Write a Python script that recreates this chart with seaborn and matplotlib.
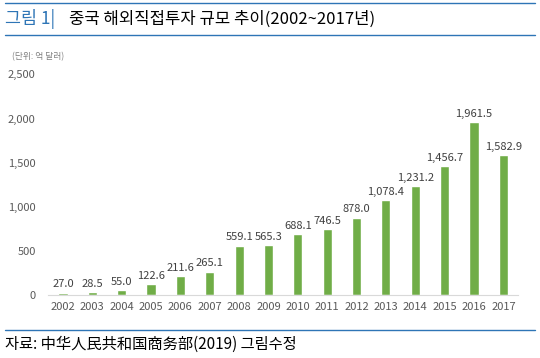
import seaborn as sns
import matplotlib.pyplot as plt
from matplotlib.lines import Line2D
from matplotlib.ticker import FuncFormatter

years = ['2002', '2003', '2004', '2005', '2006', '2007', '2008', '2009',
         '2010', '2011', '2012', '2013', '2014', '2015', '2016', '2017']
values = [27.0, 28.5, 55.0, 122.6, 211.6, 265.1, 559.1, 565.3,
          688.1, 746.5, 878.0, 1078.4, 1231.2, 1456.7, 1961.5, 1582.9]
y_ticks = [0, 500, 1000, 1500, 2000, 2500]

title_head = '그림 1|'
title_body = '중국 해외직접투자 규모 추이(2002~2017년)'
unit_text = '(단위: 억 달러)'
source_text = '자료: 中华人民共和国商务部(2019) 그림수정'


def comma_fmt(x, pos):
    return f'{x:,.0f}'


def main():
    sns.set_style('white')
    plt.rcParams['font.family'] = ['Noto Sans CJK KR', 'DejaVu Sans']

    fig = plt.figure(figsize=(5.4, 3.58), dpi=100)
    ax = fig.add_axes([0.0894, 0.176, 0.870, 0.616])

    sns.barplot(x=years, y=values, color='#70AD47', saturation=1,
                width=0.31, ax=ax)

    for i, v in enumerate(values):
        ax.text(i, v + 38, f'{v:,.1f}', ha='center', va='bottom',
                fontsize=8, color='#404040')

    ax.set_ylim(0, 2500)
    ax.set_xlim(-0.5, len(years) - 0.5)
    ax.set_yticks(y_ticks)
    ax.yaxis.set_major_formatter(FuncFormatter(comma_fmt))
    ax.tick_params(axis='both', length=0, labelsize=8, colors='#595959')
    ax.tick_params(axis='x', pad=5)
    ax.tick_params(axis='y', pad=9)
    for side in ['top', 'right', 'left']:
        ax.spines[side].set_visible(False)
    ax.spines['bottom'].set_color('#d9d9d9')
    ax.spines['bottom'].set_linewidth(0.8)

    # header / footer decoration
    blue = '#2E75B6'
    for yy in [1 - 3 / 358, 1 - 35 / 358, 1 - 330 / 358]:
        fig.add_artist(Line2D([5 / 540, 535 / 540], [yy, yy],
                              color=blue, lw=1.0))

    fig.text(5 / 540, 1 - 19 / 358, title_head, color=blue,
             fontsize=12.5, va='center', ha='left')
    fig.text(69 / 540, 1 - 19 / 358, title_body, color='black',
             fontsize=12, va='center', ha='left', fontweight='medium')
    fig.text(12 / 540, 1 - 57 / 358, unit_text, color='#808080',
             fontsize=6.3, va='center', ha='left')
    fig.text(5 / 540, 1 - 344 / 358, source_text, color='black',
             fontsize=11, va='center', ha='left')

    fig.savefig('out.png', dpi=100)


if __name__ == '__main__':
    main()
